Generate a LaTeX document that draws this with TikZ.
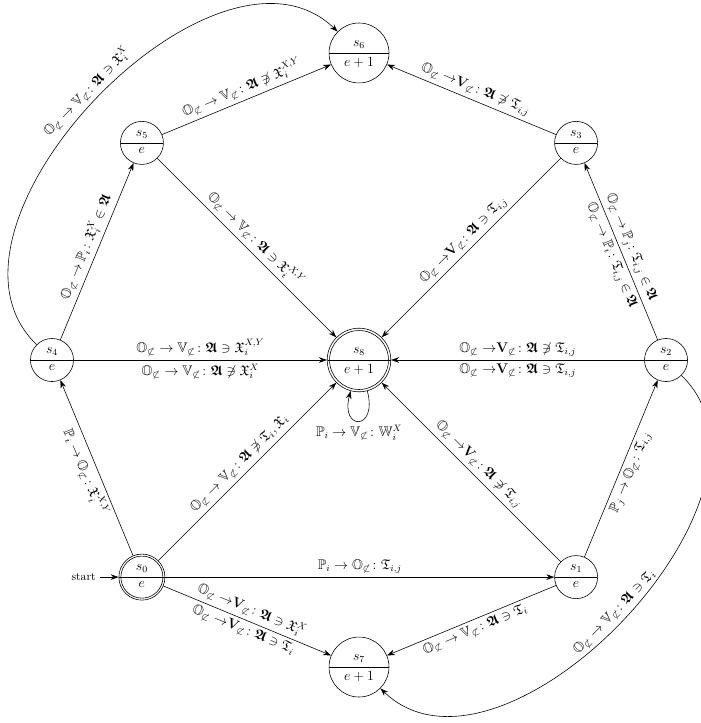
\documentclass[tikz,border=0pt]{standalone}
\usepackage{amsmath,amssymb}
\usepackage{tikz}
\usetikzlibrary{positioning,arrows.meta,shapes.multipart}
\newcommand{\Osub}{\mathbb{O}_{\not\subset}}
\newcommand{\Vsub}{\mathbb{V}_{\not\subset}}
\newcommand{\Vbsub}{{\to}\mathbf{V}_{\not\subset}}
\newcommand{\Afr}{\boldsymbol{\mathfrak{A}}}
\tikzset{
  state-node/.style={circle split, draw, line width=0.5pt, minimum size=1.3cm, inner sep=3.5pt, font=\large},
  wide-state/.style={state-node, minimum size=1.81cm},
  accept-ring/.style={label={[circle, draw, line width=0.5pt, minimum size=#1, inner sep=0pt]center:{}}},
  trans-arrow/.style={-{Stealth[length=2.4mm, width=1.7mm]}, line width=0.5pt},
  edge-label/.style={sloped, inner sep=3pt, font=\large}
}
\begin{document}
\begin{tikzpicture}
\useasboundingbox (-10.84,-10.96) rectangle (10.30,10.87);
% states on a ring round s8
\node[state-node, minimum size=1.92cm, accept-ring=1.78cm] (s8) at (0,0) {$s_8$ \nodepart{lower} $e+1$};
\node[state-node, minimum size=1.39cm, accept-ring=1.27cm] (s0) at (-135:9.27) {$s_0$ \nodepart{lower} $e$};
\node[wide-state] (s6) at (90:9.27) {$s_6$ \nodepart{lower} $e+1$};
\node[wide-state] (s7) at (-90:9.27) {$s_7$ \nodepart{lower} $e+1$};
\foreach \n/\a in {1/-45, 2/0, 3/45, 4/180, 5/135}
  \node[state-node] (s\n) at (\a:9.27) {$s_\n$ \nodepart{lower} $e$};
\node (start) [left=0.57cm of s0] {start};

\draw[trans-arrow] (start) -- (s0);
\draw[trans-arrow] (s0) -- node[edge-label, above] {$\mathbb{P}_i \to \Osub\colon \mathfrak{T}_{i,j}$} (s1);
\draw[trans-arrow] (s0) -- node[edge-label, above] {$\Osub\;\Vbsub\colon \Afr \ni \mathfrak{X}_i^X$}
  node[edge-label, below] {$\Osub\;\Vbsub\colon \Afr \ni \mathfrak{T}_i$} (s7);
\draw[trans-arrow] (s0) -- node[edge-label, below] {$\mathbb{P}_i \to \Osub\colon \mathfrak{X}_i^{X,Y}$} (s4);
\draw[trans-arrow] (s0) -- node[edge-label, above] {$\Osub \to \Vsub\colon \Afr \not\ni \mathfrak{T}_i, \mathfrak{X}_i$} (s8);
\draw[trans-arrow] (s1) -- node[edge-label, above] {$\Osub\;\Vbsub\colon \Afr \not\ni \mathfrak{T}_{i,j}$} (s8);
\draw[trans-arrow] (s1) -- node[edge-label, below] {$\mathbb{P}_j \to \Osub\colon \mathfrak{T}_{i,j}$} (s2);
\draw[trans-arrow] (s1) -- node[edge-label, below] {$\Osub \to \Vsub\colon \Afr \ni \mathfrak{T}_i$} (s7);
\draw[trans-arrow] (s2) -- node[edge-label, above] {$\Osub\;\Vbsub\colon \Afr \not\ni \mathfrak{T}_{i,j}$}
  node[edge-label, below] {$\Osub\;\Vbsub\colon \Afr \ni \mathfrak{T}_{i,j}$} (s8);
\draw[trans-arrow] (s2) -- node[edge-label, above] {$\Osub \to \mathbb{P}_j\colon \mathfrak{T}_{i,j} \in \Afr$}
  node[edge-label, below] {$\Osub \to \mathbb{P}_i\colon \mathfrak{T}_{i,j} \in \Afr$} (s3);
\draw[trans-arrow] (s2) to[bend left=90] node[edge-label, above] {$\Osub \to \Vsub\colon \Afr \ni \mathfrak{T}_i$} (s7);
\draw[trans-arrow] (s3) -- node[edge-label, above] {$\Osub\;\Vbsub\colon \Afr \not\ni \mathfrak{T}_{i,j}$} (s6);
\draw[trans-arrow] (s3) -- node[edge-label, above] {$\Osub\;\Vbsub\colon \Afr \ni \mathfrak{T}_{i,j}$} (s8);
\draw[trans-arrow] (s4) -- node[edge-label, above] {$\Osub \to \Vsub\colon \Afr \ni \mathfrak{X}_i^{X,Y}$}
  node[edge-label, below] {$\Osub \to \Vsub\colon \Afr \not\ni \mathfrak{X}_i^X$} (s8);
\draw[trans-arrow] (s4) -- node[edge-label, above] {$\Osub \to \mathbb{P}_i\colon \mathfrak{X}_i^X \in \Afr$} (s5);
\draw[trans-arrow] (s4) to[bend left=90] node[edge-label, above] {$\Osub \to \Vsub\colon \Afr \ni \mathfrak{X}_i^X$} (s6);
\draw[trans-arrow] (s5) -- node[edge-label, above] {$\Osub \to \Vsub\colon \Afr \not\ni \mathfrak{X}_i^{X,Y}$} (s6);
\draw[trans-arrow] (s5) -- node[edge-label, above] {$\Osub \to \Vsub\colon \Afr \ni \mathfrak{X}_i^{X,Y}$} (s8);
\draw[trans-arrow] (s8) to[out=-75, in=-105, min distance=1.25cm] node[below, font=\large] {$\mathbb{P}_i \to \Vsub\colon \mathbb{W}_i^X$} (s8);
\end{tikzpicture}
\end{document}
